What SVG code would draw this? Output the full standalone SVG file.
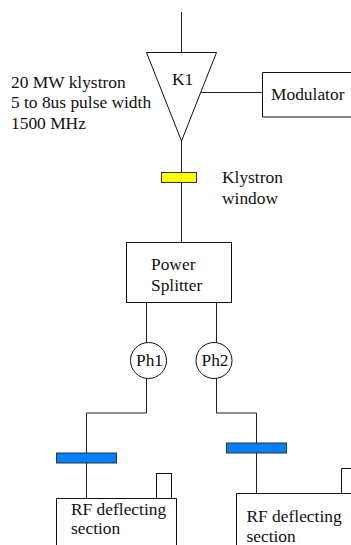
<svg xmlns="http://www.w3.org/2000/svg" width="351" height="545" viewBox="0 0 351 545">
<style>
.s{fill:#fff;stroke:#111;stroke-width:1}
.c{fill:none;stroke:#222;stroke-width:1}
.y{fill:#ffff00;stroke:#333;stroke-width:1}
.b{fill:#0080ff;stroke:#333;stroke-width:1}
text{font-family:"Liberation Serif","Times New Roman",serif;font-size:17.4px;fill:#111}
</style>
<rect width="351" height="545" fill="#fff"/>
<g id="connectors">
<path class="c" d="M181.500 12V52"/>
<path class="c" d="M201 92.500H262"/>
<path class="c" d="M181.500 141V242"/>
<path class="c" d="M146.500 302V343"/>
<path class="c" d="M216.500 302V343"/>
<path class="c" d="M146.500 378V413H86.500V498"/>
<path class="c" d="M216.500 378V413H256.500V493"/>
</g>
<g id="k1"><path class="s" d="M146.500 52.500H216.500L181.500 141Z"/><text x="172" y="85">K1</text></g>
<g id="klystron-label"><text x="11" y="88">20 MW klystron</text><text x="11" y="108">5 to 8us pulse width</text><text x="11" y="129">1500 MHz</text></g>
<g id="modulator"><path class="s" d="M351 72.500H262.500V117H351"/><text x="271" y="99.500">Modulator</text></g>
<g id="klystron-window"><rect class="y" x="161.500" y="172.500" width="35" height="10"/><text x="222" y="183">Klystron</text><text x="222" y="203.500">window</text></g>
<g id="power-splitter"><rect class="s" x="126.500" y="242.500" width="105" height="60"/><text x="151" y="270">Power</text><text x="151" y="291">Splitter</text></g>
<g id="ph1"><circle class="s" cx="148.500" cy="360.500" r="18"/><text x="136" y="366">Ph1</text></g>
<g id="ph2"><circle class="s" cx="214" cy="360.500" r="18"/><text x="201.500" y="366">Ph2</text></g>
<g id="window-1"><rect class="b" x="56.500" y="453" width="60" height="10"/></g>
<g id="window-2"><rect class="b" x="226.500" y="443" width="60" height="10"/></g>
<g id="section-1"><rect class="s" x="156.500" y="473.500" width="15" height="25"/><path class="s" d="M56.500 545V498.500H176.500V545"/><text x="71" y="515">RF deflecting</text><text x="71" y="534">section</text></g>
<g id="section-2"><path class="s" d="M351 468.500H341.500V493.500"/><path class="s" d="M236.500 545V493.500H351"/><text x="246.500" y="522">RF deflecting</text><text x="246.500" y="542">section</text></g>
</svg>
